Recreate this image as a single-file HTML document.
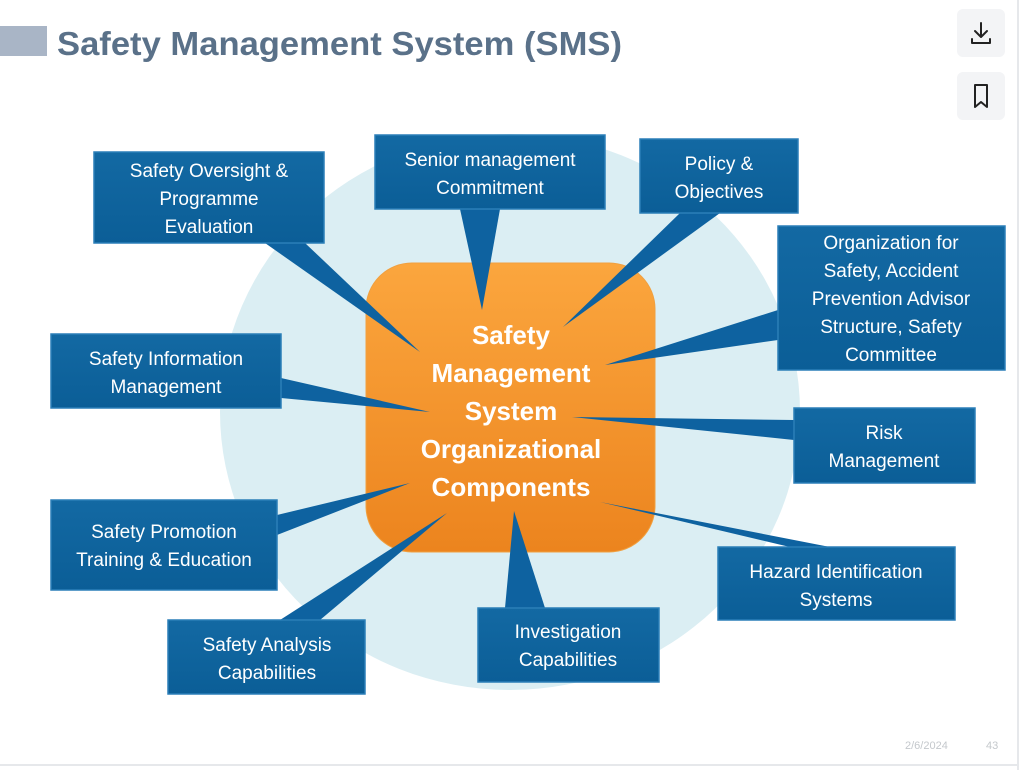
<!DOCTYPE html>
<html><head><meta charset="utf-8"><style>
html,body{margin:0;padding:0;background:#fff;}
svg{display:block;}
text{font-family:"Liberation Sans",sans-serif;}
</style></head><body>
<svg width="1024" height="770" viewBox="0 0 1024 770">
<defs>
<linearGradient id="og" x1="0" y1="0" x2="0" y2="1">
<stop offset="0" stop-color="#fba63e"/><stop offset="1" stop-color="#ec841e"/>
</linearGradient>
<linearGradient id="bg" x1="0" y1="0" x2="0" y2="1">
<stop offset="0" stop-color="#1369a3"/><stop offset="1" stop-color="#0b5e97"/>
</linearGradient>
</defs>
<rect x="1017" y="0" width="2" height="770" fill="#e6e8eb"/>
<rect x="0" y="764" width="1018" height="2" fill="#e6e8eb"/>
<rect x="0" y="26" width="47" height="30" fill="#a9b5c6"/>
<text x="57" y="55" font-size="33" font-weight="bold" fill="#5a7189" textLength="565" lengthAdjust="spacingAndGlyphs">Safety Management System (SMS)</text>
<rect x="957" y="9" width="48" height="48" rx="6" fill="#f3f4f6"/>
<rect x="957" y="72" width="48" height="48" rx="6" fill="#f3f4f6"/>
<g fill="none" stroke="#222" stroke-width="2" stroke-linecap="round" stroke-linejoin="round">
<path d="M981 23v14M975 31l6 6 6-6M972 39v4h18v-4"/>
<path d="M975 85h12v22l-6-5-6 5z"/>
</g>
<ellipse cx="510" cy="412" rx="290" ry="278" fill="#dbeef3"/>
<rect x="366" y="263" width="289" height="289" rx="46" fill="url(#og)" stroke="#f0a040" stroke-width="1"/>
<g fill="#fff" font-size="26" font-weight="bold" text-anchor="middle">
<text x="511" y="344">Safety</text>
<text x="511" y="382">Management</text>
<text x="511" y="420">System</text>
<text x="511" y="458">Organizational</text>
<text x="511" y="496">Components</text>
</g>
<g fill="#0e62a0">
<polygon points="265,243 305,243 420,352"/>
<polygon points="460,209 500,209 482,310"/>
<polygon points="680,213 720,213 563,327"/>
<polygon points="778,310 778,340 605,365"/>
<polygon points="281,378 281,398 430,412"/>
<polygon points="794,420 794,440 572,417"/>
<polygon points="277,515 277,535 410,483"/>
<polygon points="790,547 830,547 600,502"/>
<polygon points="280,620 320,620 447,513"/>
<polygon points="505,608 545,608 514,511"/>
</g>
<g fill="url(#bg)" stroke="#2b7fb8" stroke-width="1.5">
<rect x="94" y="152" width="230" height="91"/>
<rect x="375" y="135" width="230" height="74"/>
<rect x="640" y="139" width="158" height="74"/>
<rect x="778" y="226" width="227" height="144"/>
<rect x="51" y="334" width="230" height="74"/>
<rect x="794" y="408" width="181" height="75"/>
<rect x="51" y="500" width="226" height="90"/>
<rect x="718" y="547" width="237" height="73"/>
<rect x="168" y="620" width="197" height="74"/>
<rect x="478" y="608" width="181" height="74"/>
</g>
<g fill="#fff" font-size="19" text-anchor="middle">
<text x="209" y="177">Safety Oversight &amp;</text>
<text x="209" y="205">Programme</text>
<text x="209" y="233">Evaluation</text>
<text x="490" y="166">Senior management</text>
<text x="490" y="194">Commitment</text>
<text x="719" y="170">Policy &amp;</text>
<text x="719" y="198">Objectives</text>
<text x="891" y="249">Organization for</text>
<text x="891" y="277">Safety, Accident</text>
<text x="891" y="305">Prevention Advisor</text>
<text x="891" y="333">Structure, Safety</text>
<text x="891" y="361">Committee</text>
<text x="166" y="365">Safety Information</text>
<text x="166" y="393">Management</text>
<text x="884" y="439">Risk</text>
<text x="884" y="467">Management</text>
<text x="164" y="538">Safety Promotion</text>
<text x="164" y="566">Training &amp; Education</text>
<text x="836" y="578">Hazard Identification</text>
<text x="836" y="606">Systems</text>
<text x="267" y="651">Safety Analysis</text>
<text x="267" y="679">Capabilities</text>
<text x="568" y="638">Investigation</text>
<text x="568" y="666">Capabilities</text>
</g>
<text x="905" y="749" font-size="11" fill="#c4c8cc">2/6/2024</text>
<text x="986" y="749" font-size="11" fill="#c4c8cc">43</text>
</svg>
</body></html>
